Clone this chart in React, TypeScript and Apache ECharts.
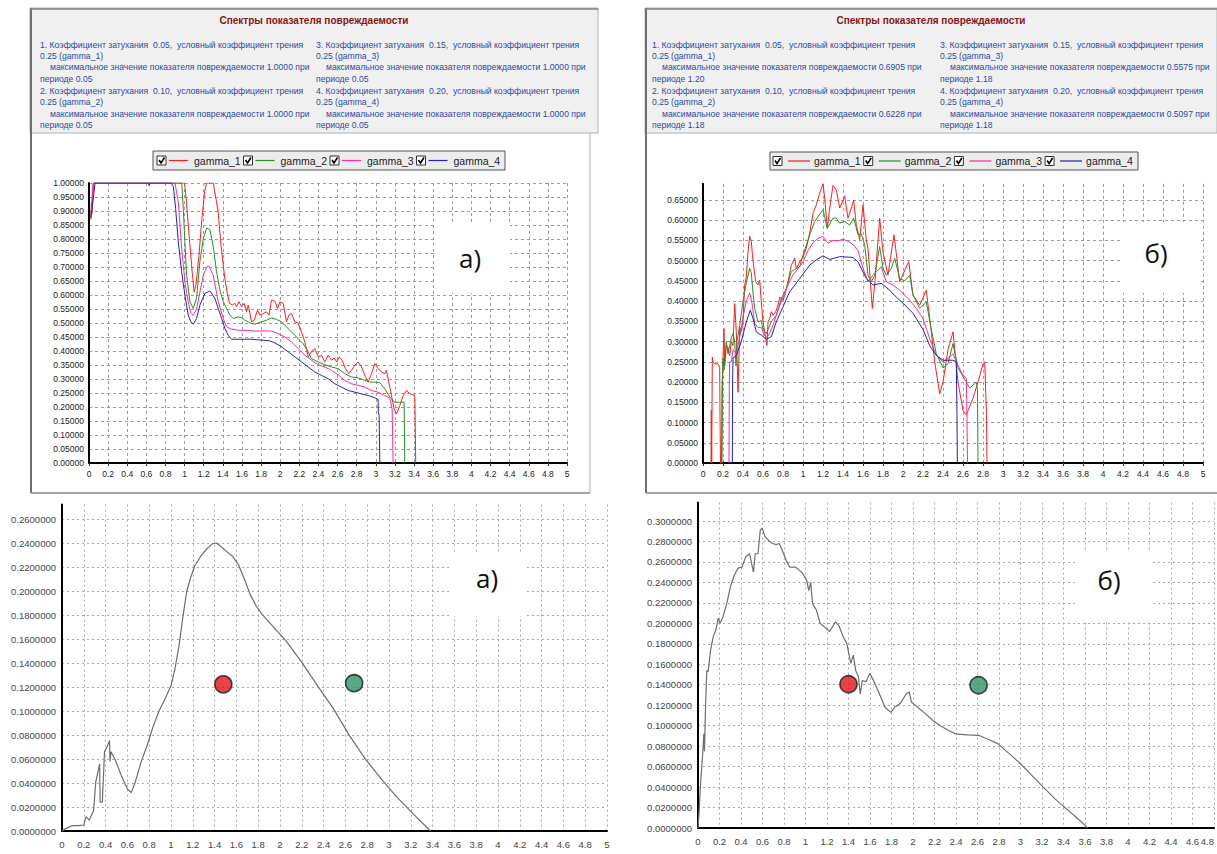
import React, { useEffect, useRef } from "react";
import * as echarts from "echarts";

// ---------- DATA ----------
const seriesNames = ["gamma_1", "gamma_2", "gamma_3", "gamma_4"];
const dampingCoefs = ["0.05", "0.10", "0.15", "0.20"];
const frictionCoef = "0.25";
const tlMaxValues = ["1.0000", "1.0000", "1.0000", "1.0000"];
const tlPeriods = ["0.05", "0.05", "0.05", "0.05"];
const trMaxValues = ["0.6905", "0.6228", "0.5575", "0.5097"];
const trPeriods = ["1.20", "1.18", "1.18", "1.18"];
const chartTitle = "Спектры показателя повреждаемости";
const panelLabels = ["а)", "б)"];

// top-left spectra (а)
const tlGamma1: [number, number][] = [
  [0.02, 0.87], [0.025, 0.93], [0.03, 0.89], [0.035, 0.96], [0.045, 1.0], [1.0, 1.0], [1.02, 0.93], [1.05, 0.8],
  [1.08, 0.68], [1.1, 0.61], [1.12, 0.64], [1.15, 0.74], [1.18, 0.87], [1.21, 0.97], [1.23, 1.0], [1.3, 1.0],
  [1.33, 0.94], [1.35, 0.9], [1.38, 0.78], [1.42, 0.66], [1.45, 0.6], [1.47, 0.57], [1.5, 0.565], [1.526, 0.57],
  [1.544, 0.558], [1.568, 0.576], [1.596, 0.558], [1.624, 0.57], [1.648, 0.54], [1.666, 0.564], [1.7, 0.504],
  [1.728, 0.51], [1.763, 0.546], [1.787, 0.528], [1.822, 0.534], [1.857, 0.54], [1.882, 0.528], [1.909, 0.582],
  [1.944, 0.578], [1.972, 0.552], [1.997, 0.576], [2.031, 0.57], [2.066, 0.504], [2.091, 0.528], [2.118, 0.534],
  [2.153, 0.504], [2.188, 0.5], [2.223, 0.468], [2.258, 0.432], [2.293, 0.379], [2.327, 0.397], [2.362, 0.409],
  [2.397, 0.379], [2.432, 0.385], [2.467, 0.361], [2.502, 0.385], [2.537, 0.367], [2.564, 0.375], [2.592, 0.361],
  [2.62, 0.379], [2.648, 0.367], [2.683, 0.337], [2.718, 0.319], [2.746, 0.331], [2.78, 0.349], [2.815, 0.361],
  [2.85, 0.343], [2.885, 0.313], [2.92, 0.289], [2.955, 0.319], [2.99, 0.355], [3.024, 0.337], [3.059, 0.325],
  [3.094, 0.319], [3.111, 0.331], [3.136, 0.289], [3.164, 0.241], [3.192, 0.193], [3.216, 0.175], [3.251, 0.205],
  [3.286, 0.241], [3.321, 0.259], [3.355, 0.247], [3.408, 0.241], [3.418, 0],
];
const tlGamma2: [number, number][] = [
  [0.02, 0.88], [0.03, 0.92], [0.04, 0.95], [0.05, 1.0], [0.97, 1.0], [0.986, 0.91], [1.003, 0.79], [1.021, 0.67],
  [1.056, 0.576], [1.091, 0.552], [1.125, 0.588], [1.16, 0.72], [1.195, 0.8], [1.23, 0.839], [1.265, 0.833],
  [1.3, 0.773], [1.334, 0.683], [1.369, 0.618], [1.404, 0.576], [1.439, 0.552], [1.474, 0.528], [1.509, 0.516],
  [1.561, 0.522], [1.596, 0.519], [1.631, 0.51], [1.666, 0.504], [1.7, 0.498], [1.735, 0.496], [1.77, 0.5],
  [1.805, 0.504], [1.857, 0.51], [1.909, 0.518], [1.962, 0.513], [2.014, 0.504], [2.066, 0.486], [2.118, 0.468],
  [2.188, 0.444], [2.24, 0.426], [2.293, 0.397], [2.327, 0.373], [2.397, 0.361], [2.467, 0.351], [2.537, 0.343],
  [2.606, 0.337], [2.676, 0.319], [2.746, 0.307], [2.815, 0.304], [2.885, 0.295], [2.937, 0.289], [2.99, 0.289],
  [3.042, 0.287], [3.094, 0.265], [3.146, 0.235], [3.199, 0.217], [3.251, 0.217], [3.296, 0.217], [3.303, 0],
];
const tlGamma3: [number, number][] = [
  [0.02, 0.89], [0.03, 0.93], [0.045, 1.0], [0.899, 1.0], [0.934, 0.934], [0.969, 0.767], [1.003, 0.648],
  [1.038, 0.576], [1.066, 0.535], [1.091, 0.527], [1.125, 0.55], [1.16, 0.61], [1.195, 0.67], [1.23, 0.7],
  [1.254, 0.703], [1.3, 0.67], [1.352, 0.576], [1.404, 0.516], [1.439, 0.486], [1.491, 0.478], [1.561, 0.474],
  [1.631, 0.474], [1.7, 0.472], [1.77, 0.471], [1.84, 0.472], [1.909, 0.471], [1.979, 0.462], [2.049, 0.45],
  [2.118, 0.432], [2.188, 0.409], [2.258, 0.385], [2.327, 0.367], [2.397, 0.351], [2.467, 0.343], [2.537, 0.331],
  [2.606, 0.315], [2.676, 0.295], [2.746, 0.283], [2.815, 0.277], [2.885, 0.271], [2.955, 0.259], [3.024, 0.253],
  [3.094, 0.241], [3.146, 0.232], [3.171, 0.193], [3.181, 0],
];
const tlGamma4: [number, number][] = [
  [0.02, 0.875], [0.03, 0.9], [0.05, 0.96], [0.063, 1.0], [0.62, 1.0], [0.63, 0.99], [0.64, 1.0], [0.857, 1.0],
  [0.882, 0.988], [0.906, 0.91], [0.934, 0.79], [0.969, 0.683], [1.003, 0.6], [1.038, 0.528], [1.066, 0.504],
  [1.091, 0.496], [1.125, 0.516], [1.16, 0.564], [1.213, 0.606], [1.265, 0.614], [1.317, 0.588], [1.352, 0.552],
  [1.387, 0.516], [1.422, 0.48], [1.456, 0.456], [1.491, 0.442], [1.561, 0.442], [1.631, 0.442], [1.7, 0.442],
  [1.77, 0.44], [1.84, 0.438], [1.892, 0.436], [1.944, 0.429], [2.014, 0.415], [2.084, 0.397], [2.153, 0.379],
  [2.223, 0.361], [2.293, 0.343], [2.362, 0.325], [2.432, 0.313], [2.502, 0.301], [2.571, 0.283], [2.641, 0.271],
  [2.711, 0.259], [2.78, 0.253], [2.85, 0.247], [2.92, 0.241], [2.99, 0.233], [3.024, 0.227], [3.026, 0.18],
  [3.035, 0.17], [3.042, 0],
];

// top-right spectra (б)
const trGamma1: [number, number][] = [
  [0.08, 0], [0.083, 0.13], [0.087, 0], [0.093, 0.262], [0.1, 0.25], [0.117, 0.245], [0.15, 0.245], [0.167, 0.237],
  [0.17, 0.12], [0.175, 0], [0.185, 0], [0.19, 0.18], [0.2, 0.26], [0.21, 0.332], [0.217, 0.24], [0.233, 0.29],
  [0.25, 0.285], [0.267, 0.265], [0.283, 0.3], [0.3, 0.29], [0.317, 0.394], [0.333, 0.325], [0.35, 0.175],
  [0.367, 0.336], [0.383, 0.325], [0.4, 0.349], [0.417, 0.44], [0.433, 0.46], [0.45, 0.522], [0.467, 0.56],
  [0.483, 0.547], [0.5, 0.5], [0.527, 0.448], [0.55, 0.44], [0.567, 0.452], [0.583, 0.398], [0.6, 0.349],
  [0.617, 0.324], [0.64, 0.291], [0.65, 0.349], [0.667, 0.357], [0.683, 0.374], [0.7, 0.365], [0.727, 0.374],
  [0.75, 0.39], [0.767, 0.41], [0.8, 0.402], [0.817, 0.415], [0.85, 0.448], [0.883, 0.489], [0.917, 0.506],
  [0.933, 0.48], [0.967, 0.497], [1.0, 0.51], [1.033, 0.53], [1.067, 0.568], [1.1, 0.617], [1.133, 0.638],
  [1.167, 0.667], [1.2, 0.69], [1.217, 0.655], [1.243, 0.58], [1.267, 0.63], [1.3, 0.686], [1.333, 0.675],
  [1.367, 0.63], [1.417, 0.659], [1.45, 0.605], [1.483, 0.63], [1.507, 0.65], [1.533, 0.588], [1.567, 0.552],
  [1.6, 0.638], [1.633, 0.551], [1.65, 0.53], [1.693, 0.382], [1.72, 0.45], [1.767, 0.605], [1.8, 0.52],
  [1.85, 0.464], [1.91, 0.564], [1.967, 0.448], [2.057, 0.498], [2.1, 0.415], [2.167, 0.39], [2.233, 0.427],
  [2.283, 0.324], [2.317, 0.25], [2.367, 0.171], [2.4, 0.2], [2.45, 0.28], [2.5, 0.324], [2.55, 0.2], [2.6, 0.13],
  [2.633, 0.119], [2.7, 0.16], [2.75, 0.2], [2.8, 0.245], [2.817, 0.25], [2.835, 0.12], [2.84, 0],
];
const trGamma2: [number, number][] = [
  [0.19, 0], [0.195, 0.2], [0.2, 0.26], [0.21, 0.23], [0.22, 0.26], [0.233, 0.3], [0.25, 0.27], [0.267, 0.29],
  [0.283, 0.31], [0.3, 0.32], [0.317, 0.3], [0.33, 0.24], [0.34, 0.3], [0.367, 0.34], [0.4, 0.4], [0.433, 0.445],
  [0.467, 0.481], [0.483, 0.47], [0.5, 0.42], [0.517, 0.382], [0.55, 0.349], [0.583, 0.352], [0.6, 0.33],
  [0.633, 0.32], [0.65, 0.33], [0.683, 0.349], [0.733, 0.365], [0.783, 0.407], [0.833, 0.43], [0.883, 0.473],
  [0.93, 0.48], [0.967, 0.485], [1.0, 0.514], [1.067, 0.564], [1.117, 0.597], [1.2, 0.626], [1.243, 0.58],
  [1.3, 0.605], [1.333, 0.605], [1.367, 0.593], [1.417, 0.597], [1.467, 0.588], [1.507, 0.605], [1.55, 0.564],
  [1.583, 0.566], [1.617, 0.539], [1.65, 0.464], [1.683, 0.448], [1.717, 0.464], [1.767, 0.535], [1.8, 0.481],
  [1.833, 0.464], [1.883, 0.481], [1.917, 0.506], [1.967, 0.456], [2.017, 0.45], [2.067, 0.464], [2.1, 0.415],
  [2.167, 0.382], [2.233, 0.398], [2.283, 0.33], [2.333, 0.27], [2.4, 0.235], [2.45, 0.245], [2.5, 0.295],
  [2.55, 0.235], [2.633, 0.2], [2.667, 0.185], [2.733, 0.2], [2.745, 0.18], [2.75, 0],
];
const trGamma3: [number, number][] = [
  [0.26, 0], [0.263, 0.2], [0.267, 0.25], [0.283, 0.25], [0.3, 0.28], [0.333, 0.27], [0.367, 0.31], [0.4, 0.36],
  [0.433, 0.4], [0.467, 0.42], [0.49, 0.395], [0.517, 0.345], [0.55, 0.335], [0.583, 0.335], [0.617, 0.315],
  [0.64, 0.31], [0.667, 0.322], [0.7, 0.34], [0.75, 0.378], [0.8, 0.41], [0.85, 0.44], [0.9, 0.465], [0.95, 0.48],
  [1.0, 0.497], [1.05, 0.525], [1.1, 0.545], [1.15, 0.555], [1.2, 0.56], [1.25, 0.543], [1.3, 0.55], [1.35, 0.549],
  [1.4, 0.553], [1.45, 0.548], [1.5, 0.54], [1.55, 0.525], [1.6, 0.481], [1.65, 0.448], [1.7, 0.464],
  [1.783, 0.485], [1.833, 0.448], [1.9, 0.44], [1.967, 0.427], [2.05, 0.407], [2.133, 0.382], [2.2, 0.357],
  [2.267, 0.307], [2.333, 0.266], [2.4, 0.25], [2.467, 0.262], [2.5, 0.27], [2.55, 0.241], [2.6, 0.217],
  [2.633, 0.21], [2.64, 0.11], [2.645, 0],
];
const trGamma4: [number, number][] = [
  [0.293, 0], [0.296, 0.2], [0.3, 0.26], [0.333, 0.265], [0.383, 0.3], [0.433, 0.349], [0.473, 0.378],
  [0.5, 0.357], [0.533, 0.324], [0.583, 0.316], [0.633, 0.306], [0.683, 0.312], [0.733, 0.349], [0.8, 0.386],
  [0.867, 0.423], [0.967, 0.456], [1.067, 0.489], [1.133, 0.502], [1.2, 0.512], [1.267, 0.503], [1.367, 0.51],
  [1.5, 0.508], [1.55, 0.497], [1.633, 0.456], [1.7, 0.44], [1.783, 0.444], [1.867, 0.427], [1.933, 0.41],
  [2.0, 0.395], [2.1, 0.37], [2.2, 0.33], [2.267, 0.29], [2.333, 0.266], [2.4, 0.254], [2.5, 0.254],
  [2.533, 0.25], [2.54, 0.12], [2.543, 0],
];

// bottom-left curve (а)
const blCurve: [number, number][] = [
  [0, 0], [0.036, 0.002], [0.09, 0.0044], [0.15, 0.0045], [0.2, 0.005], [0.22, 0.012], [0.25, 0.009], [0.29, 0.017],
  [0.31, 0.041], [0.345, 0.056], [0.35, 0.024], [0.37, 0.024], [0.39, 0.066], [0.418, 0.071], [0.436, 0.0755],
  [0.44, 0.058], [0.45, 0.066], [0.49, 0.059], [0.545, 0.046], [0.6, 0.035], [0.636, 0.032], [0.673, 0.041],
  [0.727, 0.058], [0.78, 0.071], [0.836, 0.087], [0.89, 0.1], [0.945, 0.11], [1.0, 0.121], [1.036, 0.135],
  [1.073, 0.154], [1.11, 0.179], [1.145, 0.2], [1.18, 0.211], [1.218, 0.221], [1.273, 0.229], [1.327, 0.235],
  [1.382, 0.2395], [1.418, 0.24], [1.455, 0.2373], [1.509, 0.233], [1.564, 0.229], [1.618, 0.222], [1.673, 0.21],
  [1.727, 0.197], [1.782, 0.1875], [1.836, 0.1806], [2.055, 0.1585], [2.2, 0.1405], [2.345, 0.121], [2.49, 0.102],
  [2.636, 0.0797], [2.78, 0.0603], [2.927, 0.0437], [3.07, 0.0285], [3.218, 0.0147], [3.38, 0],
];
const blRedDot: [number, number][] = [[1.48, 0.1222]];
const blGreenDot: [number, number][] = [[2.68, 0.1232]];

// bottom-right curve (б)
const brCurve: [number, number][] = [
  [0, 0], [0.011, 0.017], [0.018, 0.032], [0.028, 0.05], [0.046, 0.076], [0.054, 0.092], [0.06, 0.075],
  [0.071, 0.122], [0.082, 0.154], [0.095, 0.153], [0.117, 0.174], [0.142, 0.187], [0.165, 0.193], [0.188, 0.205],
  [0.206, 0.2], [0.231, 0.206], [0.267, 0.219], [0.302, 0.236], [0.338, 0.247], [0.373, 0.254], [0.409, 0.255],
  [0.444, 0.265], [0.48, 0.268], [0.516, 0.25], [0.532, 0.268], [0.558, 0.268], [0.579, 0.291], [0.597, 0.293],
  [0.622, 0.285], [0.657, 0.281], [0.693, 0.278], [0.73, 0.277], [0.756, 0.278], [0.782, 0.272], [0.818, 0.262],
  [0.853, 0.255], [0.905, 0.255], [0.941, 0.252], [0.973, 0.249], [1.012, 0.242], [1.03, 0.232], [1.048, 0.24],
  [1.066, 0.219], [1.101, 0.213], [1.137, 0.2], [1.172, 0.197], [1.225, 0.192], [1.279, 0.2015], [1.314, 0.197],
  [1.35, 0.187], [1.385, 0.18], [1.421, 0.161], [1.445, 0.169], [1.467, 0.154], [1.492, 0.148], [1.509, 0.131],
  [1.528, 0.144], [1.563, 0.143], [1.598, 0.151], [1.634, 0.144], [1.688, 0.131], [1.74, 0.118], [1.794, 0.113],
  [1.83, 0.118], [1.883, 0.122], [1.937, 0.131], [1.964, 0.133], [1.986, 0.123], [2.044, 0.118], [2.112, 0.112],
  [2.185, 0.105], [2.255, 0.1], [2.326, 0.0955], [2.395, 0.092], [2.505, 0.091], [2.609, 0.0906], [2.682, 0.0874],
  [2.789, 0.0825], [2.895, 0.0727], [2.998, 0.063], [3.105, 0.0515], [3.212, 0.04], [3.319, 0.0287], [3.426, 0.0189],
  [3.533, 0.0091], [3.602, 0.0026], [3.621, 0],
];
const brRedDot: [number, number][] = [[1.4, 0.1405]];
const brGreenDot: [number, number][] = [[2.61, 0.1395]];

// ---------- STYLE ----------
const FONT = "'Liberation Sans', Arial, sans-serif";
const LABEL_FONT = "'Open Sans', 'Noto Sans', sans-serif";
const lineColors = ["#ff1e1e", "#1e961e", "#ff2a9a", "#2222bb"];
const infoColor = "#2d4ba0";
const titleColor = "#8a1414";

export default function App() {
  const ref = useRef<HTMLDivElement | null>(null);

  useEffect(() => {
    if (!ref.current) return;
    const chart = echarts.init(ref.current, null, { renderer: "svg" });

    const xLabelFmt = (v: number) => String(Math.round(v * 10) / 10);

    const mkX = (gi: number, top: boolean, max = 5) => ({
      type: "value",
      gridIndex: gi,
      min: 0,
      max,
      interval: 0.2,
      axisLine: { show: true, onZero: false, lineStyle: { color: "#000", width: 2 } },
      axisTick: { show: top, length: 3, lineStyle: { color: "#333" } },
      axisLabel: {
        formatter: xLabelFmt,
        fontSize: top ? 8.5 : 9.5,
        fontFamily: FONT,
        color: top ? "#222" : "#444",
        margin: top ? 6 : 8,
        showMinLabel: true,
        showMaxLabel: true,
        hideOverlap: false,
        alignMaxLabel: max === 5 ? "center" : "right",
      },
      splitLine: {
        show: true,
        lineStyle: { color: top ? "#9a9a9a" : "#a8a8a8", type: top ? [3, 3] : [2, 3], width: 1 },
      },
    });

    const mkY = (gi: number, max: number, interval: number, digits: number, top: boolean) => ({
      type: "value",
      gridIndex: gi,
      min: 0,
      max,
      interval,
      axisLine: { show: true, onZero: false, lineStyle: { color: "#000", width: 2 } },
      axisTick: { show: false },
      axisLabel: {
        formatter: (v: number) => v.toFixed(digits),
        fontSize: top ? 8.5 : 9.5,
        fontFamily: FONT,
        color: top ? "#222" : "#444",
        margin: top ? 5 : 6,
        showMaxLabel: max === 1,
      },
      splitLine: {
        show: true,
        showMaxLine: max === 1,
        lineStyle: { color: top ? "#9a9a9a" : "#a8a8a8", type: top ? [3, 3] : [2, 3], width: 1 },
      },
    });

    const line = (name: string, data: [number, number][], color: string, gi: number, width = 1) => ({
      type: "line",
      name,
      data,
      xAxisIndex: gi,
      yAxisIndex: gi,
      showSymbol: false,
      symbol: "none",
      lineStyle: { color, width },
      itemStyle: { color },
      clip: true,
      z: 3,
    });

    const dot = (data: [number, number][], color: string, gi: number) => ({
      type: "scatter",
      data,
      xAxisIndex: gi,
      yAxisIndex: gi,
      symbolSize: 17,
      itemStyle: { color, borderColor: "#1a1a1a", borderWidth: 1.6 },
      z: 5,
    });

    const tlData = [tlGamma1, tlGamma2, tlGamma3, tlGamma4];
    const trData = [trGamma1, trGamma2, trGamma3, trGamma4];

    // ---- graphic: headers ----
    const graphics: any[] = [];
    const addHeader = (x: number, w: number, colX: [number, number], maxVals: string[], periods: string[]) => {
      graphics.push({
        type: "rect",
        shape: { x, y: 8, width: w, height: 125 },
        style: { fill: "#f0f0f0", stroke: "#b0b0b0", lineWidth: 1 },
        z: 5,
      });
      graphics.push({
        type: "text",
        x: x + w / 2,
        y: 20,
        style: {
          text: chartTitle,
          fill: titleColor,
          font: `bold 10px ${FONT}`,
          align: "center",
          verticalAlign: "middle",
        },
        z: 6,
      });
      for (let i = 0; i < 4; i++) {
        const col = i < 2 ? 0 : 1;
        const row = i % 2;
        const cx = colX[col];
        const by = 44.5 + row * 46.5;
        const lines = [
          { t: `${i + 1}. Коэффициент затухания  ${dampingCoefs[i]},  условный коэффициент трения`, dx: 0 },
          { t: `${frictionCoef} (${seriesNames[i]})`, dx: 0 },
          { t: `максимальное значение показателя повреждаемости ${maxVals[i]} при`, dx: 10 },
          { t: `периоде ${periods[i]}`, dx: 0 },
        ];
        lines.forEach((ln, k) => {
          graphics.push({
            type: "text",
            x: cx + ln.dx,
            y: by + k * 11.4,
            style: {
              text: ln.t,
              fill: infoColor,
              font: `8.6px ${FONT}`,
              verticalAlign: "middle",
            },
            z: 6,
          });
        });
      }
    };
    addHeader(30, 568, [40, 316], tlMaxValues, tlPeriods);
    addHeader(645, 572, [652, 940], trMaxValues, trPeriods);

    // frames
    const frameLines: [number, number, number, number, string, number][] = [
      [31, 8, 31, 493, "#707070", 2],
      [30, 9, 598, 9, "#808080", 1.5],
      [31, 493, 590, 493, "#8a8a8a", 1.5],
      [590, 133, 590, 493, "#b0b0b0", 1],
      [646, 8, 646, 493, "#707070", 2],
      [645, 9, 1217, 9, "#808080", 1.5],
      [646, 493, 1217, 493, "#8a8a8a", 1.5],
    ];
    frameLines.forEach(([x1, y1, x2, y2, c, w]) =>
      graphics.push({ type: "line", shape: { x1, y1, x2, y2 }, style: { stroke: c, lineWidth: w }, z: 7 })
    );

    // ---- graphic: legends ----
    const addLegend = (bx: number, by: number, bw: number, bh: number, start: number, pitch: number, l0: number, l1: number, tx: number) => {
      graphics.push({
        type: "rect",
        shape: { x: bx, y: by, width: bw, height: bh },
        style: { fill: "#ececec", stroke: "#555", lineWidth: 1 },
        z: 8,
      });
      const cy = by + bh / 2;
      for (let i = 0; i < 4; i++) {
        const x = start + i * pitch;
        graphics.push({
          type: "rect",
          shape: { x, y: cy - 4.5, width: 9, height: 9 },
          style: { fill: "#fff", stroke: "#333", lineWidth: 1 },
          z: 9,
        });
        graphics.push({
          type: "polyline",
          shape: { points: [[x + 2, cy - 0.5], [x + 4, cy + 2.5], [x + 7.5, cy - 3]] },
          style: { stroke: "#000", lineWidth: 1.6, fill: "none" },
          z: 10,
        });
        graphics.push({
          type: "line",
          shape: { x1: x + l0, y1: cy, x2: x + l1, y2: cy },
          style: { stroke: lineColors[i], lineWidth: 1.2 },
          z: 9,
        });
        graphics.push({
          type: "text",
          x: x + tx,
          y: cy,
          style: { text: seriesNames[i], fill: "#222", font: `10.5px ${FONT}`, verticalAlign: "middle" },
          z: 9,
        });
      }
    };
    addLegend(153, 151, 352, 19, 157, 86.5, 12, 31, 37);
    addLegend(770, 152, 368, 18, 773, 90.7, 15, 37, 41);

    // ---- graphic: panel labels ----
    const labelBoxes: [number, number, number, number, number, number, string][] = [
      [435, 225, 75, 68, 470, 258, panelLabels[0]],
      [1123, 222, 75, 71, 1156, 253, panelLabels[1]],
      [449, 552, 76, 64, 487, 578, panelLabels[0]],
      [1077, 550, 75, 72, 1109, 580, panelLabels[1]],
    ];
    labelBoxes.forEach(([x, y, w, h, tx, ty, t]) => {
      graphics.push({ type: "rect", shape: { x, y, width: w, height: h }, style: { fill: "#fff" }, z: 1 });
      graphics.push({
        type: "text",
        x: tx,
        y: ty,
        style: { text: t, fill: "#111", font: `26px ${LABEL_FONT}`, align: "center", verticalAlign: "middle" },
        z: 2,
      });
    });

    const gridBase = { outerBoundsMode: "none", containLabel: false };
    const option: any = {
      animation: false,
      backgroundColor: "#ffffff",
      grid: [
        { ...gridBase, left: 89, top: 183, width: 478, height: 280 },
        { ...gridBase, left: 703, top: 183.8, width: 500, height: 279.2 },
        { ...gridBase, left: 62, top: 504.6, width: 545, height: 326.4 },
        { ...gridBase, left: 698, top: 502.6, width: 516, height: 325.4 },
      ],
      xAxis: [mkX(0, true), mkX(1, true), mkX(2, false), mkX(3, false, 4.8)],
      yAxis: [
        mkY(0, 1, 0.05, 5, true),
        mkY(1, 0.69, 0.05, 5, true),
        mkY(2, 0.272, 0.02, 7, false),
        mkY(3, 0.318, 0.02, 7, false),
      ],
      series: [
        ...tlData.map((d, i) => line(seriesNames[i], d, lineColors[i], 0)),
        ...trData.map((d, i) => line(seriesNames[i], d, lineColors[i], 1)),
        line("а", blCurve, "#6e6e6e", 2, 1.2),
        line("б", brCurve, "#6e6e6e", 3, 1.2),
        dot(blRedDot, "#e3141c", 2),
        dot(blGreenDot, "#2e9468", 2),
        dot(brRedDot, "#e3141c", 3),
        dot(brGreenDot, "#2e9468", 3),
      ],
      graphic: { elements: graphics },
    };

    chart.setOption(option);
    return () => chart.dispose();
  }, []);

  return (
    <div
      ref={ref}
      style={{ position: "absolute", left: 0, top: 0, width: 1217, height: 854, background: "#fff" }}
    />
  );
}
